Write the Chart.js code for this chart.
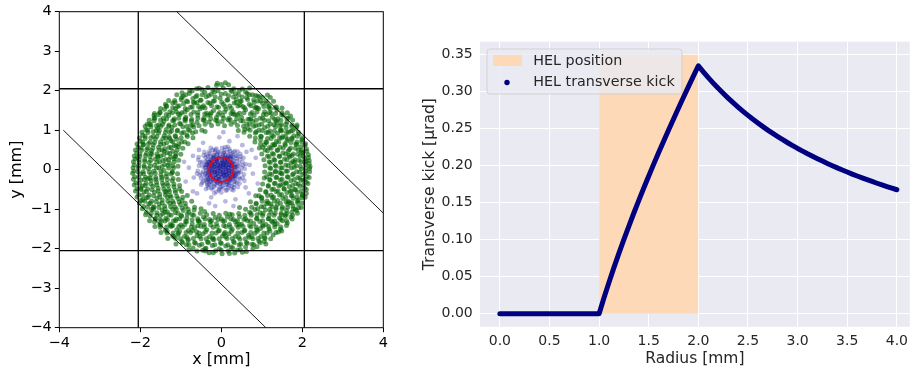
<!DOCTYPE html>
<html>
<head>
<meta charset="utf-8">
<script src="https://cdn.jsdelivr.net/npm/chart.js@4.4.1/dist/chart.umd.min.js"></script>
<style>
  html, body { margin: 0; padding: 0; background: #fff; overflow: hidden; }
  #wrap { position: relative; width: 914px; height: 372px; }
  #beamChart { position: absolute; left: 0; top: 0; }
  #kickChart { position: absolute; left: 400px; top: 0; }
</style>
</head>
<body>
<div id="wrap">
  <canvas id="beamChart" width="400" height="372"></canvas>
  <canvas id="kickChart" width="514" height="372"></canvas>
</div>
<script>
// ---- Left panel: particles in the transverse plane [mm] ----

// halo particles sitting inside the electron lens annulus
const haloParticles = [
  [-0.48,2.03],[-0.33,2.08],[-0.12,2.13],[0.05,2.07],[0.18,2.15],[0.31,2.05],[0.44,2.0],
  [-0.88,1.9],[-0.72,1.99],[-0.6,1.88],[-0.41,1.96],[-0.25,1.91],[-0.08,2.0],[0.1,1.93],[0.26,1.98],[0.43,1.89],[0.6,1.97],[0.77,1.9],[0.9,1.86],
  [-1.15,1.75],[-0.98,1.83],[-0.86,1.74],[-0.7,1.8],[-0.52,1.76],[-0.37,1.85],[-0.2,1.73],[-0.03,1.81],[0.14,1.76],[0.3,1.84],[0.47,1.74],[0.63,1.82],[0.8,1.77],[0.95,1.85],[1.1,1.74],
  [-1.36,1.62],[-1.2,1.69],[-1.08,1.6],[-0.93,1.67],[-0.76,1.58],[-0.6,1.7],[-0.44,1.62],[-0.28,1.68],[-0.11,1.59],[0.05,1.66],[0.21,1.61],[0.37,1.7],[0.53,1.6],[0.69,1.66],[0.86,1.58],[1.02,1.68],[1.18,1.62],[1.33,1.57],
  [-1.52,1.45],[-1.4,1.53],[-1.27,1.47],[-1.13,1.55],[-0.98,1.44],[-0.84,1.52],[-0.68,1.46],[-0.52,1.54],[-0.36,1.43],[-0.19,1.5],[-0.04,1.45],[0.12,1.53],[0.29,1.47],[0.45,1.43],[0.6,1.52],[0.76,1.45],[0.92,1.54],[1.07,1.47],[1.23,1.43],[1.38,1.51],[1.5,1.44],
  [-1.66,1.31],[-1.55,1.39],[-1.43,1.3],[-1.3,1.37],[-1.16,1.29],[-1.02,1.4],[-0.88,1.33],[-0.73,1.28],[-0.58,1.38],[-0.43,1.31],[-0.27,1.4],[-0.12,1.32],[0.03,1.37],[0.19,1.3],[0.34,1.39],[0.5,1.33],[0.66,1.28],[0.81,1.37],[0.96,1.3],[1.11,1.4],[1.26,1.33],[1.4,1.29],[1.53,1.38],[1.65,1.3],
  [-1.77,1.16],[-1.66,1.24],[-1.54,1.14],[-1.42,1.22],[-1.29,1.13],[-1.17,1.25],[-1.03,1.17],[-0.89,1.23],[-0.75,1.12],[-0.6,1.2],[-0.45,1.26],[-0.3,1.21],[-0.14,1.25],[0.02,1.22],[0.17,1.26],[0.33,1.2],[0.48,1.24],[0.63,1.15],[0.78,1.22],[0.93,1.13],[1.07,1.25],[1.21,1.16],[1.35,1.23],[1.49,1.14],[1.62,1.21],[1.75,1.13],
  [-1.86,1.01],[-1.74,1.08],[-1.61,0.99],[-1.49,1.1],[-1.36,1.02],[-1.22,1.07],[-1.09,0.98],[-0.95,1.09],[-0.82,1.01],[-0.68,1.08],
  [0.66,1.04],[0.8,1.1],[0.93,1.0],[1.07,1.07],[1.2,0.98],[1.34,1.09],[1.47,1.01],[1.6,1.06],[1.72,0.98],[1.84,1.04],
  [-1.94,0.87],[-1.81,0.94],[-1.68,0.85],[-1.55,0.93],[-1.41,0.86],[-1.27,0.95],[-1.13,0.84],[-0.98,0.92],[-0.85,0.88],
  [0.84,0.93],[0.97,0.85],[1.11,0.94],[1.25,0.87],[1.39,0.92],[1.52,0.84],[1.66,0.95],[1.79,0.86],[1.92,0.91],
  [-2.0,0.72],[-1.88,0.79],[-1.76,0.7],[-1.63,0.78],[-1.5,0.71],[-1.37,0.8],[-1.24,0.73],[-1.1,0.77],[-0.98,0.7],
  [0.97,0.76],[1.1,0.7],[1.23,0.79],[1.36,0.72],[1.49,0.8],[1.62,0.73],[1.75,0.78],[1.87,0.7],[1.99,0.76],
  [-2.05,0.57],[-1.93,0.64],[-1.81,0.55],[-1.68,0.63],[-1.55,0.57],[-1.42,0.65],[-1.29,0.56],[-1.16,0.62],[-1.06,0.58],
  [1.07,0.63],[1.19,0.56],[1.32,0.64],[1.45,0.57],[1.58,0.62],[1.71,0.55],[1.84,0.65],[1.96,0.58],[2.06,0.62],
  [-2.09,0.42],[-1.97,0.49],[-1.85,0.41],[-1.72,0.48],[-1.59,0.4],[-1.46,0.5],[-1.33,0.43],[-1.2,0.47],[-1.12,0.41],
  [1.14,0.48],[1.26,0.41],[1.39,0.49],[1.52,0.42],[1.65,0.47],[1.78,0.4],[1.9,0.5],[2.02,0.43],[2.11,0.47],
  [-2.13,0.27],[-2.01,0.34],[-1.89,0.26],[-1.76,0.33],[-1.63,0.27],[-1.5,0.35],[-1.37,0.26],[-1.25,0.32],[-1.17,0.28],
  [1.18,0.33],[1.3,0.26],[1.43,0.34],[1.56,0.27],[1.69,0.32],[1.82,0.25],[1.95,0.35],[2.06,0.28],[2.15,0.31],
  [-2.15,0.12],[-2.03,0.19],[-1.91,0.1],[-1.78,0.18],[-1.65,0.11],[-1.52,0.2],[-1.4,0.13],[-1.28,0.17],[-1.2,0.1],
  [1.21,0.18],[1.33,0.11],[1.46,0.19],[1.59,0.12],[1.72,0.17],[1.85,0.1],[1.97,0.2],[2.08,0.13],[2.17,0.16],
  [-2.16,-0.03],[-2.05,0.04],[-1.93,-0.05],[-1.8,0.03],[-1.67,-0.04],[-1.54,0.05],[-1.42,-0.02],[-1.3,0.04],[-1.21,-0.05],
  [1.22,0.03],[1.34,-0.04],[1.47,0.05],[1.6,-0.03],[1.73,0.04],[1.86,-0.05],[1.98,0.02],[2.09,-0.04],[2.18,0.03],
  [-2.14,-0.18],[-2.0,-0.11],[-1.87,-0.19],[-1.74,-0.12],[-1.62,-0.2],[-1.49,-0.13],[-1.36,-0.17],[-1.24,-0.11],
  [1.24,-0.12],[1.37,-0.19],[1.5,-0.11],[1.63,-0.18],[1.76,-0.13],[1.89,-0.2],[2.01,-0.12],[2.12,-0.17],
  [-2.11,-0.33],[-1.99,-0.26],[-1.86,-0.34],[-1.73,-0.27],[-1.6,-0.32],[-1.47,-0.25],[-1.34,-0.35],[-1.21,-0.28],
  [1.2,-0.27],[1.33,-0.34],[1.46,-0.26],[1.59,-0.33],[1.72,-0.28],[1.84,-0.35],[1.97,-0.27],[2.1,-0.32],
  [-2.08,-0.48],[-1.95,-0.41],[-1.82,-0.49],[-1.69,-0.42],[-1.56,-0.47],[-1.43,-0.4],[-1.3,-0.5],[-1.17,-0.43],
  [1.16,-0.42],[1.29,-0.49],[1.42,-0.41],[1.55,-0.48],[1.68,-0.43],[1.81,-0.5],[1.94,-0.42],[2.06,-0.47],
  [-2.04,-0.63],[-1.91,-0.56],[-1.78,-0.64],[-1.65,-0.57],[-1.52,-0.62],[-1.39,-0.55],[-1.26,-0.65],[-1.13,-0.58],
  [1.1,-0.57],[1.23,-0.64],[1.36,-0.56],[1.49,-0.63],[1.62,-0.58],[1.75,-0.65],[1.88,-0.57],[2.0,-0.62],
  [-1.98,-0.78],[-1.85,-0.71],[-1.72,-0.79],[-1.59,-0.72],[-1.46,-0.77],[-1.33,-0.7],[-1.2,-0.8],[-1.07,-0.73],[-0.97,-0.78],
  [1.0,-0.72],[1.13,-0.79],[1.26,-0.71],[1.39,-0.78],[1.52,-0.73],[1.65,-0.8],[1.78,-0.72],[1.9,-0.77],[1.99,-0.71],
  [-1.92,-0.93],[-1.79,-0.86],[-1.66,-0.94],[-1.53,-0.87],[-1.4,-0.92],[-1.27,-0.85],[-1.14,-0.95],[-1.01,-0.88],[-0.88,-0.93],
  [0.86,-0.87],[0.99,-0.94],[1.12,-0.86],[1.25,-0.93],[1.38,-0.88],[1.51,-0.95],[1.64,-0.87],[1.77,-0.92],[1.89,-0.85],
  [-1.85,-1.08],[-1.72,-1.01],[-1.59,-1.09],[-1.46,-1.02],[-1.33,-1.07],[-1.2,-1.0],[-1.07,-1.1],[-0.94,-1.03],[-0.8,-1.08],[-0.67,-1.02],
  [0.7,-1.08],[0.83,-1.01],[0.96,-1.09],[1.09,-1.02],[1.22,-1.07],[1.35,-1.0],[1.48,-1.1],[1.61,-1.03],[1.74,-1.08],[1.83,-1.01],
  [-1.76,-1.17],[-1.63,-1.24],[-1.5,-1.16],[-1.37,-1.23],[-1.24,-1.15],[-1.11,-1.25],[-0.98,-1.18],[-0.85,-1.22],[-0.72,-1.14],[-0.58,-1.24],[-0.44,-1.2],[-0.29,-1.26],[-0.15,-1.21],
  [0.0,-1.25],[0.15,-1.2],[0.3,-1.26],[0.45,-1.19],[0.6,-1.24],[0.74,-1.15],[0.88,-1.23],[1.02,-1.16],[1.16,-1.24],[1.3,-1.15],[1.44,-1.22],[1.58,-1.14],[1.72,-1.2],
  [-1.65,-1.32],[-1.52,-1.39],[-1.39,-1.3],[-1.26,-1.38],[-1.13,-1.29],[-1.0,-1.4],[-0.86,-1.32],[-0.72,-1.37],[-0.57,-1.29],[-0.42,-1.39],[-0.27,-1.31],[-0.12,-1.37],
  [0.04,-1.3],[0.2,-1.39],[0.35,-1.32],[0.5,-1.38],[0.65,-1.29],[0.8,-1.36],[0.95,-1.31],[1.1,-1.39],[1.24,-1.3],[1.38,-1.37],[1.51,-1.29],[1.63,-1.35],
  [-1.51,-1.46],[-1.38,-1.53],[-1.24,-1.44],[-1.1,-1.52],[-0.96,-1.45],[-0.81,-1.54],[-0.66,-1.47],[-0.51,-1.43],[-0.36,-1.52],[-0.2,-1.46],[-0.05,-1.54],
  [0.11,-1.44],[0.27,-1.51],[0.42,-1.46],[0.58,-1.53],[0.73,-1.45],[0.88,-1.52],[1.03,-1.43],[1.18,-1.5],[1.32,-1.45],[1.46,-1.51],
  [-1.34,-1.6],[-1.2,-1.68],[-1.06,-1.61],[-0.91,-1.69],[-0.76,-1.59],[-0.6,-1.67],[-0.45,-1.62],[-0.29,-1.7],[-0.13,-1.6],
  [0.03,-1.68],[0.19,-1.62],[0.35,-1.69],[0.51,-1.59],[0.67,-1.66],[0.83,-1.61],[0.98,-1.69],[1.13,-1.6],[1.28,-1.65],
  [-1.13,-1.74],[-0.97,-1.82],[-0.82,-1.76],[-0.66,-1.84],[-0.5,-1.75],[-0.34,-1.83],[-0.18,-1.77],[-0.02,-1.85],
  [0.14,-1.74],[0.3,-1.82],[0.46,-1.76],[0.62,-1.84],[0.78,-1.75],[0.93,-1.81],[1.08,-1.74],
  [-0.86,-1.9],[-0.7,-1.98],[-0.54,-1.91],[-0.38,-1.99],[-0.22,-1.92],[-0.05,-2.0],[0.11,-1.93],[0.28,-1.98],[0.44,-1.9],[0.6,-1.96],[0.76,-1.89],[0.88,-1.95],
  [-0.46,-2.04],[-0.3,-2.1],[-0.14,-2.05],[0.02,-2.13],[0.17,-2.06],[0.33,-2.11],[0.47,-2.02],
  // second sampling, offset between the rows above
  [-0.78,2.0],[-0.55,2.06],[-0.21,2.02],[0.0,2.16],[0.24,2.01],[0.52,2.04],[0.7,2.07],[-0.1,2.19],[0.1,2.2],
  [-1.1,1.9],[-0.94,1.86],[-0.79,1.93],[-0.63,1.85],[-0.47,1.9],[-0.31,1.88],[-0.15,1.84],[0.0,1.91],[0.18,1.87],[0.35,1.92],[0.52,1.84],[0.69,1.9],[0.85,1.88],[1.02,1.83],[1.14,1.89],
  [-1.3,1.75],[-1.14,1.7],[-0.99,1.77],[-0.83,1.72],[-0.66,1.69],[-0.5,1.76],[-0.33,1.7],[-0.17,1.74],[0.01,1.71],[0.16,1.77],[0.32,1.69],[0.49,1.73],[0.65,1.78],[0.81,1.7],[0.97,1.74],[1.13,1.69],[1.29,1.73],
  [-1.5,1.55],[-1.35,1.6],[-1.2,1.57],[-1.04,1.62],[-0.89,1.55],[-0.72,1.59],[-0.56,1.6],[-0.4,1.56],[-0.24,1.62],[-0.07,1.58],[0.09,1.6],[0.25,1.55],[0.41,1.61],[0.57,1.57],[0.73,1.62],[0.89,1.56],[1.05,1.6],[1.21,1.54],[1.36,1.59],[1.5,1.56],
  [-1.65,1.42],[-1.51,1.45],[-1.36,1.4],[-1.21,1.44],[-1.06,1.41],[-0.9,1.46],[-0.75,1.4],[-0.58,1.45],[-0.41,1.41],[-0.25,1.44],[-0.08,1.4],[0.08,1.46],[0.24,1.42],[0.4,1.39],[0.56,1.44],[0.72,1.41],[0.88,1.46],[1.04,1.4],[1.19,1.45],[1.34,1.42],[1.49,1.39],[1.63,1.44],
  [-1.78,1.25],[-1.64,1.3],[-1.5,1.26],[-1.35,1.29],[-1.2,1.24],[-1.05,1.3],[-0.9,1.27],[-0.74,1.23],[-0.58,1.3],[-0.42,1.25],[-0.26,1.29],[-0.1,1.24],[0.06,1.3],[0.22,1.26],[0.38,1.29],[0.54,1.23],[0.7,1.28],[0.86,1.25],[1.02,1.3],[1.17,1.24],[1.32,1.28],[1.47,1.25],[1.62,1.3],[1.76,1.26],
  [-1.88,1.1],[-1.74,1.14],[-1.6,1.11],[-1.45,1.15],[-1.3,1.1],[-1.15,1.13],[-1.0,1.16],[-0.85,1.1],[-0.7,1.14],[-0.55,1.11],[-0.4,1.15],[-0.24,1.12],[-0.08,1.16],
  [0.08,1.11],[0.24,1.15],[0.4,1.12],[0.55,1.1],[0.7,1.15],[0.85,1.12],[1.0,1.16],[1.15,1.1],[1.3,1.14],[1.45,1.11],[1.6,1.15],[1.74,1.1],[1.87,1.13],
  [-1.96,0.95],[-1.82,1.0],[-1.68,0.96],[-1.53,0.99],[-1.38,0.94],[-1.23,0.98],[-1.08,1.0],[-0.93,0.95],[-0.78,0.99],[-0.63,0.96],[-0.48,1.0],[-0.4,0.97],
  [0.42,0.99],[0.56,0.95],[0.71,1.0],[0.86,0.96],[1.01,0.99],[1.16,0.94],[1.31,0.98],[1.46,1.0],[1.61,0.95],[1.76,0.99],[1.9,0.95],
  [-2.02,0.8],[-1.88,0.85],[-1.74,0.81],[-1.59,0.84],[-1.44,0.79],[-1.29,0.83],[-1.14,0.86],[-0.99,0.8],[-0.84,0.84],[-0.7,0.81],
  [0.7,0.85],[0.84,0.8],[0.99,0.84],[1.14,0.79],[1.29,0.85],[1.44,0.81],[1.59,0.84],[1.74,0.8],[1.88,0.85],[2.0,0.81],
  [-2.08,0.65],[-1.94,0.7],[-1.8,0.66],[-1.65,0.69],[-1.5,0.64],[-1.35,0.68],[-1.2,0.71],[-1.05,0.65],[-0.9,0.7],[-0.82,0.66],
  [0.83,0.7],[0.97,0.65],[1.12,0.69],[1.27,0.64],[1.42,0.7],[1.57,0.66],[1.72,0.69],[1.86,0.64],[1.99,0.7],[2.08,0.66],
  [-2.12,0.5],[-1.98,0.55],[-1.84,0.51],[-1.69,0.54],[-1.54,0.49],[-1.39,0.53],[-1.24,0.56],[-1.09,0.5],[-0.95,0.54],
  [0.94,0.55],[1.08,0.5],[1.23,0.54],[1.38,0.49],[1.53,0.55],[1.68,0.51],[1.83,0.54],[1.97,0.49],[2.1,0.53],
  [-2.15,0.35],[-2.01,0.4],[-1.87,0.36],[-1.72,0.39],[-1.57,0.34],[-1.42,0.38],[-1.27,0.41],[-1.13,0.35],[-1.0,0.39],
  [1.0,0.4],[1.14,0.35],[1.29,0.39],[1.44,0.34],[1.59,0.4],[1.74,0.36],[1.89,0.39],[2.03,0.34],[2.15,0.38],
  [-2.17,0.2],[-2.03,0.25],[-1.89,0.21],[-1.74,0.24],[-1.59,0.19],[-1.44,0.23],[-1.3,0.26],[-1.16,0.2],[-1.05,0.24],
  [1.05,0.25],[1.18,0.2],[1.32,0.24],[1.47,0.19],[1.62,0.25],[1.77,0.21],[1.92,0.24],[2.06,0.19],[2.17,0.23],
  [-2.18,0.05],[-2.04,0.1],[-1.9,0.06],[-1.75,0.09],[-1.6,0.04],[-1.46,0.08],[-1.32,0.11],[-1.18,0.05],[-1.07,0.09],
  [1.08,0.1],[1.2,0.05],[1.35,0.09],[1.5,0.04],[1.65,0.1],[1.8,0.06],[1.95,0.09],[2.08,0.04],[2.19,0.08],
  [-2.19,-0.09],[-2.06,-0.05],[-1.92,-0.1],[-1.78,-0.06],[-1.63,-0.09],[-1.49,-0.04],[-1.35,-0.1],[-1.21,-0.07],[-1.08,-0.1],
  [1.07,-0.06],[1.19,-0.1],[1.33,-0.05],[1.48,-0.09],[1.63,-0.04],[1.78,-0.1],[1.93,-0.06],[2.06,-0.09],[2.18,-0.05],
  [-2.17,-0.24],[-2.04,-0.2],[-1.9,-0.25],[-1.76,-0.21],[-1.61,-0.24],[-1.47,-0.19],[-1.33,-0.25],[-1.19,-0.22],[-1.06,-0.25],
  [1.06,-0.21],[1.2,-0.25],[1.35,-0.2],[1.5,-0.24],[1.65,-0.19],[1.8,-0.25],[1.94,-0.21],[2.07,-0.24],[2.17,-0.2],
  [-2.15,-0.39],[-2.02,-0.35],[-1.88,-0.4],[-1.74,-0.36],[-1.59,-0.39],[-1.45,-0.34],[-1.31,-0.4],[-1.17,-0.37],[-1.03,-0.4],
  [1.02,-0.36],[1.16,-0.4],[1.31,-0.35],[1.46,-0.39],[1.61,-0.34],[1.76,-0.4],[1.9,-0.36],[2.03,-0.39],[2.14,-0.35],
  [-2.12,-0.54],[-1.99,-0.5],[-1.85,-0.55],[-1.71,-0.51],[-1.56,-0.54],[-1.42,-0.49],[-1.28,-0.55],[-1.14,-0.52],[-0.98,-0.55],
  [0.96,-0.51],[1.1,-0.55],[1.25,-0.5],[1.4,-0.54],[1.55,-0.49],[1.7,-0.55],[1.84,-0.51],[1.98,-0.54],[2.1,-0.5],
  [-2.08,-0.69],[-1.95,-0.65],[-1.81,-0.7],[-1.67,-0.66],[-1.52,-0.69],[-1.38,-0.64],[-1.24,-0.7],[-1.1,-0.67],[-0.95,-0.7],[-0.84,-0.65],
  [0.85,-0.66],[0.99,-0.7],[1.14,-0.65],[1.29,-0.69],[1.44,-0.64],[1.59,-0.7],[1.73,-0.66],[1.87,-0.69],[2.0,-0.65],[2.07,-0.7],
  [-2.02,-0.84],[-1.89,-0.8],[-1.75,-0.85],[-1.61,-0.81],[-1.46,-0.84],[-1.32,-0.79],[-1.18,-0.85],[-1.04,-0.82],[-0.89,-0.85],[-0.73,-0.8],
  [0.72,-0.81],[0.86,-0.85],[1.01,-0.8],[1.16,-0.84],[1.31,-0.79],[1.46,-0.85],[1.6,-0.81],[1.74,-0.84],[1.88,-0.8],[2.0,-0.84],
  [-1.95,-0.99],[-1.82,-0.95],[-1.68,-1.0],[-1.54,-0.96],[-1.39,-0.99],[-1.25,-0.94],[-1.11,-1.0],[-0.97,-0.97],[-0.82,-1.0],[-0.66,-0.95],[-0.5,-0.99],
  [0.45,-0.96],[0.6,-1.0],[0.75,-0.95],[0.9,-0.99],[1.05,-0.94],[1.2,-1.0],[1.35,-0.96],[1.5,-0.99],[1.64,-0.95],[1.78,-0.99],[1.91,-0.96],
  [-1.87,-1.14],[-1.73,-1.1],[-1.59,-1.15],[-1.44,-1.11],[-1.29,-1.14],[-1.14,-1.09],[-0.99,-1.15],[-0.84,-1.12],[-0.68,-1.15],[-0.52,-1.1],[-0.36,-1.14],[-0.2,-1.11],[-0.05,-1.15],
  [0.11,-1.1],[0.27,-1.14],[0.43,-1.11],[0.58,-1.15],[0.73,-1.1],[0.88,-1.14],[1.03,-1.11],[1.18,-1.15],[1.33,-1.1],[1.48,-1.14],[1.62,-1.11],[1.76,-1.15],[1.88,-1.1],
  [-1.77,-1.29],[-1.63,-1.25],[-1.48,-1.3],[-1.33,-1.26],[-1.18,-1.29],[-1.03,-1.24],[-0.88,-1.3],[-0.72,-1.27],[-0.56,-1.3],[-0.4,-1.25],[-0.24,-1.29],[-0.08,-1.26],
  [0.08,-1.3],[0.24,-1.25],[0.4,-1.29],[0.56,-1.26],[0.72,-1.3],[0.87,-1.25],[1.02,-1.29],[1.17,-1.24],[1.32,-1.3],[1.47,-1.26],[1.61,-1.29],[1.75,-1.25],
  [-1.64,-1.44],[-1.5,-1.4],[-1.35,-1.45],[-1.2,-1.41],[-1.05,-1.44],[-0.9,-1.39],[-0.74,-1.45],[-0.58,-1.42],[-0.42,-1.45],[-0.26,-1.4],[-0.1,-1.44],
  [0.06,-1.41],[0.22,-1.45],[0.38,-1.4],[0.54,-1.44],[0.7,-1.41],[0.86,-1.45],[1.02,-1.4],[1.17,-1.44],[1.32,-1.39],[1.47,-1.45],[1.61,-1.41],
  [-1.49,-1.59],[-1.34,-1.55],[-1.19,-1.6],[-1.03,-1.56],[-0.87,-1.59],[-0.71,-1.54],[-0.55,-1.6],[-0.39,-1.57],[-0.23,-1.6],[-0.07,-1.55],
  [0.09,-1.59],[0.25,-1.56],[0.41,-1.6],[0.57,-1.55],[0.73,-1.59],[0.89,-1.56],[1.05,-1.6],[1.2,-1.55],[1.35,-1.59],[1.49,-1.55],
  [-1.32,-1.74],[-1.17,-1.7],[-1.01,-1.75],[-0.85,-1.71],[-0.69,-1.74],[-0.53,-1.69],[-0.37,-1.75],[-0.21,-1.72],[-0.05,-1.75],
  [0.11,-1.7],[0.27,-1.74],[0.43,-1.71],[0.59,-1.75],[0.75,-1.7],[0.91,-1.74],[1.07,-1.71],[1.22,-1.75],
  [-1.12,-1.88],[-0.96,-1.85],[-0.8,-1.9],[-0.64,-1.86],[-0.48,-1.89],[-0.32,-1.84],[-0.16,-1.9],[0.0,-1.87],
  [0.16,-1.9],[0.32,-1.85],[0.48,-1.89],[0.64,-1.86],[0.8,-1.9],[0.96,-1.85],[1.1,-1.88],
  [-0.8,-2.02],[-0.6,-2.06],[-0.4,-2.0],[-0.2,-2.1],[0.0,-2.04],[0.2,-2.12],[0.4,-2.03],[0.62,-2.07],[0.78,-2.0],
  // scattered extras breaking up the rows
  [-1.38,1.66],[-0.61,2.05],[0.37,1.79],[1.21,1.83],[1.71,1.36],[1.98,0.44],[2.1,-0.6],[1.86,-1.03],[1.41,-1.58],[0.52,-2.09],
  [-1.92,0.63],[-1.57,1.04],[-1.11,1.47],[-0.47,1.58],[0.29,1.41],[0.83,1.57],[1.38,1.19],[1.64,0.77],[1.81,0.19],[1.53,-0.37],
  [1.69,-0.83],[1.27,-1.33],[0.69,-1.71],[0.07,-1.62],[-0.61,-1.57],[-1.23,-1.41],[-1.68,-0.96],[-1.81,-0.23],[-1.56,0.31],[-1.27,0.79],
  [-0.88,1.29],[-0.17,1.97],[0.64,1.93],[1.17,1.58],[1.86,1.09],[2.03,-0.27],[1.97,-0.96],[1.06,-1.82],[0.24,-1.96],[-0.39,-2.06],
  [-1.07,-1.64],[-1.51,-1.27],[-1.99,-0.47],[-2.07,0.31],[-1.83,1.15],[-0.97,1.95],[-1.12,0.6],[-0.71,0.93],[0.58,1.02],[1.02,0.57],
  [1.12,-0.18],[0.93,-0.66],[0.21,-1.13],[-0.41,-1.06],[-1.03,-0.49],[-1.14,0.33],[1.31,0.62],[1.44,-0.07],[1.22,-0.87],[0.44,-1.39],
  [-0.53,-1.33],[-1.36,-0.57],[-1.41,0.47],[-0.33,1.38],[0.73,1.29],[1.67,0.36],[1.73,-0.54],[0.97,-1.49],[-0.21,-1.76],[-1.39,-1.08],
  [-1.74,0.42],[-0.69,1.71],[0.46,1.64],[1.49,0.98],[1.58,-1.18],[-0.82,-1.79],[-1.94,-0.76],[-1.66,1.38],[0.9,1.74],[2.09,0.22]
];

// beam core particles
const coreParticles = [
  [0.0,0.0],[0.05,0.08],[-0.07,0.04],[0.12,-0.05],[-0.1,-0.09],[0.18,0.12],[-0.16,0.15],[0.22,-0.14],[-0.2,-0.18],[0.03,0.22],
  [-0.04,-0.24],[0.26,0.04],[-0.27,0.02],[0.09,-0.16],[-0.12,0.2],[0.15,0.25],[-0.22,-0.06],[0.3,-0.08],[-0.3,0.12],[0.06,-0.3],
  [-0.08,0.3],[0.2,-0.25],[-0.24,0.24],[0.28,0.18],[-0.15,-0.28],[0.11,0.05],[-0.02,-0.11],[0.16,-0.01],[-0.13,0.07],[0.07,0.15],
  [-0.06,-0.17],[0.24,-0.2],[-0.19,0.09],[0.01,0.32],[-0.33,-0.05],[0.33,0.06],[0.13,-0.31],[-0.28,-0.17],[0.19,0.3],[-0.1,0.26],
  [0.04,-0.05],[-0.03,0.14],[0.1,-0.1],[-0.17,-0.02],[0.23,0.09],[-0.09,-0.32],[0.27,-0.03],[-0.25,0.18],[0.14,0.19],[-0.21,-0.25],
  [0.08,0.03],[-0.05,-0.02],[0.02,-0.08],[-0.1,0.1],[0.14,0.11],[-0.14,-0.13],[0.19,-0.08],[-0.2,0.04],[0.03,0.18],[0.0,-0.19],
  [0.25,0.12],[-0.26,-0.1],[0.12,-0.22],[-0.11,0.23],[0.21,0.2],[-0.18,0.28],[0.29,-0.15],[-0.31,0.06],[0.17,0.34],[-0.03,-0.35],
  [0.35,-0.18],[-0.35,0.25],[0.06,0.41],[-0.24,-0.36],[0.4,-0.1],[-0.42,-0.2],[0.25,0.4],[0.2,-0.4],[-0.39,0.3],[0.32,-0.38],
  [0.04,0.12],[-0.09,0.17],[0.17,0.05],[-0.16,-0.06],[0.06,-0.14],[-0.04,0.06],[0.21,-0.03],[-0.24,0.1],[0.1,0.29],[-0.13,-0.2],
  [0.27,-0.24],[-0.29,0.19],[0.32,0.14],[-0.33,-0.13],[0.14,-0.38],[-0.18,0.37],[0.38,0.22],[-0.4,0.05],[0.02,-0.42],[-0.07,0.44],
  [0.31,-0.3],[-0.26,-0.3],[0.23,0.33],[-0.36,0.14],[0.43,-0.02],[-0.12,-0.4],[0.09,0.36],[-0.3,-0.22],[0.36,-0.12],[-0.2,0.33],
  [0.0,0.1],[0.13,-0.12],[-0.11,-0.05],[0.07,0.24],[-0.22,0.16],[0.26,0.27],[-0.08,-0.27],[0.19,-0.19],[-0.28,-0.03],[0.11,0.17],
  [-0.37,-0.26],[0.44,0.16],[-0.16,0.44],[0.17,-0.45],[0.46,-0.24],[-0.47,0.2],[0.29,0.44],[-0.34,-0.4],[0.39,0.35],[-0.05,-0.49],
  [-0.17,0.33],[-0.1,0.37],[-0.03,0.34],[0.04,0.38],[0.11,0.32],[0.18,0.36],
  [-0.27,0.26],[-0.2,0.3],[-0.13,0.27],[-0.06,0.29],[0.01,0.25],[0.08,0.3],[0.15,0.26],[0.22,0.29],
  [-0.33,0.19],[-0.26,0.23],[-0.19,0.2],[-0.12,0.22],[-0.05,0.18],[0.02,0.23],[0.09,0.2],[0.16,0.22],[0.23,0.19],[0.3,0.23],
  [-0.36,0.12],[-0.29,0.16],[-0.22,0.13],[-0.15,0.15],[-0.08,0.11],[-0.01,0.16],[0.06,0.13],[0.13,0.15],[0.2,0.12],[0.27,0.16],[0.34,0.13],
  [-0.38,0.05],[-0.31,0.09],[-0.24,0.06],[-0.17,0.08],[-0.1,0.04],[-0.03,0.09],[0.04,0.06],[0.11,0.08],[0.18,0.05],[0.25,0.09],[0.32,0.06],[0.38,0.08],
  [-0.37,-0.02],[-0.3,0.02],[-0.23,-0.01],[-0.16,0.01],[-0.09,-0.03],[-0.02,0.02],[0.05,-0.01],[0.12,0.01],[0.19,-0.02],[0.26,0.02],[0.33,-0.01],
  [-0.38,-0.09],[-0.31,-0.05],[-0.24,-0.08],[-0.17,-0.06],[-0.1,-0.1],[-0.03,-0.05],[0.04,-0.08],[0.11,-0.06],[0.18,-0.09],[0.25,-0.05],[0.32,-0.08],[0.38,-0.06],
  [-0.36,-0.16],[-0.29,-0.12],[-0.22,-0.15],[-0.15,-0.13],[-0.08,-0.17],[-0.01,-0.12],[0.06,-0.15],[0.13,-0.13],[0.2,-0.16],[0.27,-0.12],[0.34,-0.15],
  [-0.33,-0.23],[-0.26,-0.19],[-0.19,-0.22],[-0.12,-0.2],[-0.05,-0.24],[0.02,-0.19],[0.09,-0.22],[0.16,-0.2],[0.23,-0.23],[0.3,-0.19],
  [-0.27,-0.3],[-0.2,-0.26],[-0.13,-0.29],[-0.06,-0.27],[0.01,-0.31],[0.08,-0.26],[0.15,-0.29],[0.22,-0.27],
  [-0.17,-0.37],[-0.1,-0.33],[-0.03,-0.36],[0.04,-0.34],[0.11,-0.38],[0.18,-0.33],
  [0.42,0.1],[-0.4,-0.12],[0.15,0.44],[-0.18,-0.43],[0.35,-0.3],[-0.33,0.34],[0.48,-0.06],[-0.46,0.08],[0.05,-0.47],[-0.04,0.46],
  [0.38,0.28],[-0.36,-0.3],[0.26,-0.42],[-0.28,0.41],[0.52,0.2],[-0.5,-0.22],[0.2,0.52],[-0.22,-0.5],[0.45,-0.35],[-0.44,0.36],
  [0.56,-0.12],[-0.55,0.1],[0.1,0.57],[-0.12,-0.56],[0.33,0.47],[-0.32,-0.46],[0.41,-0.44],[-0.42,0.45],[0.58,0.02],[-0.58,-0.03],
  [0.0,-0.58],[0.02,0.55],[0.37,0.05],[-0.38,0.2],[0.22,-0.33],[-0.1,0.4],[0.47,0.4],[-0.5,-0.38],[0.3,-0.52],[-0.26,0.55],
  [0.55,0.3],[-0.57,0.25],[0.12,-0.53],[-0.15,0.5],[0.44,-0.2],[-0.45,-0.05],[0.28,0.36],[-0.3,-0.38],
  [0.5,0.05],[-0.49,-0.1],[0.08,0.5],[-0.06,-0.52],[0.36,0.36],[-0.37,0.38],[0.39,-0.33],[-0.35,-0.36],[0.53,-0.2],[-0.52,0.18],
  [0.21,0.47],[-0.24,-0.46],[0.46,0.27],[-0.44,-0.29],[0.31,-0.45],[-0.3,0.46],[0.54,0.11],[-0.53,-0.14],[0.14,-0.51],[-0.12,0.53],
  [0.43,-0.08],[-0.41,0.12],[0.06,0.44],[-0.02,-0.45],[0.29,0.31],[-0.32,-0.27],[0.34,-0.22],[-0.27,0.34],[0.48,0.33],[-0.47,-0.33],
  [0.25,-0.5],[-0.21,0.5],[0.57,-0.28],[-0.56,0.32],[0.4,0.46],[-0.38,-0.49],[0.16,0.58],[-0.17,-0.6],[0.6,0.14],[-0.6,-0.1],
  [0.7,0.12],[-0.68,-0.2],[0.2,0.72],[-0.25,-0.7],[0.6,-0.45],[-0.55,0.5],[0.78,-0.1],[-0.8,0.05],[0.1,-0.8],[-0.05,0.82],
  [0.52,0.62],[-0.6,-0.6],[0.62,0.45],[-0.45,0.68],[0.35,-0.75],[-0.7,0.35],[0.85,0.3],[-0.88,-0.3],[0.4,0.85],[-0.3,-0.85],
  [0.9,-0.35],[-0.92,0.2],[0.05,0.95],[-0.15,-0.92],[0.68,-0.6],[-0.7,-0.55],[0.3,-0.92],[0.75,0.5]
];

const apertureX = [-2.05, 2.05];      // vertical aperture lines
const apertureY = [2.05, -2.05];      // horizontal aperture lines
const diagonalCuts = [
  [[-1.1, 4], [4, -1.1]],
  [[-3.9, 1.0], [1.1, -4]]
];
const beamCircle = { x: 0, y: 0, r: 0.3 };
const planeLimit = 4;
const planeTicksX = [-4, -2, 0, 2, 4];
const planeTicksY = [-4, -3, -2, -1, 0, 1, 2, 3, 4];

// ---- Right panel: transverse kick of the HEL vs radius ----
const radius = [0.0, 0.25, 0.5, 0.75, 1.0,
  1.05, 1.1, 1.15, 1.2, 1.25, 1.3, 1.35, 1.4, 1.45, 1.5, 1.55, 1.6, 1.65, 1.7, 1.75, 1.8, 1.85, 1.9, 1.95, 2.0,
  2.05, 2.1, 2.15, 2.2, 2.25, 2.3, 2.35, 2.4, 2.45, 2.5, 2.55, 2.6, 2.65, 2.7, 2.75, 2.8, 2.85, 2.9, 2.95, 3.0,
  3.05, 3.1, 3.15, 3.2, 3.25, 3.3, 3.35, 3.4, 3.45, 3.5, 3.55, 3.6, 3.65, 3.7, 3.75, 3.8, 3.85, 3.9, 3.95, 4.0];
const kick = [0, 0, 0, 0, 0,
  0.0218, 0.0426, 0.0626, 0.0819, 0.1005, 0.1185, 0.1361, 0.1531, 0.1698, 0.1861, 0.2021, 0.2178, 0.2331, 0.2483, 0.2632, 0.2779, 0.2924, 0.3068, 0.3210, 0.3350,
  0.3268, 0.3190, 0.3116, 0.3045, 0.2978, 0.2913, 0.2851, 0.2792, 0.2735, 0.2680, 0.2627, 0.2577, 0.2528, 0.2481, 0.2436, 0.2393, 0.2351, 0.2310, 0.2271, 0.2233,
  0.2197, 0.2161, 0.2127, 0.2094, 0.2062, 0.2030, 0.2000, 0.1971, 0.1942, 0.1914, 0.1887, 0.1861, 0.1836, 0.1811, 0.1787, 0.1763, 0.1740, 0.1718, 0.1696, 0.1675];
const helStart = 1.0;
const helEnd = 2.0;
const helHeight = 0.35;
const radiusTicks = [0, 0.5, 1, 1.5, 2, 2.5, 3, 3.5, 4];
const kickTicks = [0, 0.05, 0.1, 0.15, 0.2, 0.25, 0.3, 0.35];

Chart.defaults.font.family = '"DejaVu Sans", sans-serif';
Chart.defaults.animation = false;

const minus = v => String(v).replace('-', '\u2212');
const fixedTicks = vals => scale => { scale.ticks = vals.map(v => ({ value: v })); };

// full frame around the left axes + red beam circle
const planeDecor = {
  id: 'planeDecor',
  afterDatasetsDraw(chart) {
    const { ctx, scales: { x, y } } = chart;
    const cx = x.getPixelForValue(beamCircle.x);
    const cy = y.getPixelForValue(beamCircle.y);
    const r = x.getPixelForValue(beamCircle.x + beamCircle.r) - cx;
    ctx.save();
    ctx.strokeStyle = '#ff0000';
    ctx.lineWidth = 1.6;
    ctx.beginPath();
    ctx.arc(cx, cy, r, 0, Math.PI * 2);
    ctx.stroke();
    ctx.restore();
  },
  afterDraw(chart) {
    const { ctx, chartArea: a } = chart;
    ctx.save();
    ctx.strokeStyle = '#000';
    ctx.lineWidth = 1;
    ctx.strokeRect(a.left, a.top, a.right - a.left, a.bottom - a.top);
    ctx.restore();
  }
};

const lineSet = (pts, w) => ({
  data: pts.map(p => ({ x: p[0], y: p[1] })),
  showLine: true, borderColor: '#000', borderWidth: w, pointRadius: 0, fill: false
});

const planeLines = [
  ...apertureX.map(v => lineSet([[v, -planeLimit], [v, planeLimit]], 1.3)),
  ...apertureY.map(v => lineSet([[-planeLimit, v], [planeLimit, v]], 1.3)),
  ...diagonalCuts.map(seg => lineSet(seg, 0.9))
];

new Chart(document.getElementById('beamChart'), {
  type: 'scatter',
  data: {
    datasets: [
      ...planeLines,
      {
        data: coreParticles.map(p => ({ x: p[0], y: p[1] })),
        backgroundColor: 'rgba(0,0,139,0.28)', borderWidth: 0, pointRadius: 2.4
      },
      {
        data: haloParticles.map(p => ({ x: p[0], y: p[1] })),
        backgroundColor: 'rgba(0,100,0,0.6)', borderWidth: 0, pointRadius: 2.5
      }
    ]
  },
  options: {
    responsive: false,
    layout: { padding: { left: 0, top: 11.7, right: 16.7, bottom: 0 } },
    plugins: { legend: { display: false }, tooltip: { enabled: false } },
    scales: {
      x: {
        type: 'linear', min: -planeLimit, max: planeLimit,
        afterBuildTicks: fixedTicks(planeTicksX),
        afterFit: s => { s.height = 44.3; },
        grid: { drawOnChartArea: false, drawTicks: true, tickLength: 4.5, color: '#000' },
        border: { display: false },
        ticks: { color: '#000', font: { size: 14.5 }, padding: 2, maxRotation: 0, callback: minus },
        title: { display: true, text: 'x [mm]', color: '#000', font: { size: 16 }, padding: { top: 0, bottom: 2.4 } }
      },
      y: {
        type: 'linear', min: -planeLimit, max: planeLimit,
        afterBuildTicks: fixedTicks(planeTicksY),
        afterFit: s => { s.width = 59.3; },
        grid: { drawOnChartArea: false, drawTicks: true, tickLength: 4.5, color: '#000' },
        border: { display: false },
        ticks: { color: '#000', font: { size: 14.5 }, padding: 3, callback: minus },
        title: { display: true, text: 'y [mm]', color: '#000', font: { size: 16 }, padding: { top: 7.1, bottom: 0 } }
      }
    }
  },
  plugins: [planeDecor]
});

// grey panel background and in-axes legend for the kick plot
const kickDecor = {
  id: 'kickDecor',
  beforeDraw(chart) {
    const { ctx, chartArea: a } = chart;
    ctx.save();
    ctx.fillStyle = '#EAEAF2';
    ctx.fillRect(a.left, a.top, a.right - a.left, a.bottom - a.top);
    ctx.restore();
  },
  afterDatasetsDraw(chart) {
    const { ctx, chartArea: a } = chart;
    const line = chart.data.datasets[0];
    const span = chart.data.datasets[1];
    const x = a.left + 7, y = a.top + 7.3, w = 195, h = 45;
    ctx.save();
    ctx.globalAlpha = 0.8;
    ctx.beginPath();
    if (ctx.roundRect) ctx.roundRect(x, y, w, h, 3); else ctx.rect(x, y, w, h);
    ctx.fillStyle = '#EAEAF2';
    ctx.fill();
    ctx.strokeStyle = '#CCCCCC';
    ctx.lineWidth = 1;
    ctx.stroke();
    ctx.globalAlpha = 1;
    ctx.fillStyle = span.backgroundColor;
    ctx.fillRect(x + 6, y + 6, 29, 11);
    ctx.fillStyle = line.borderColor;
    ctx.beginPath();
    ctx.arc(x + 20, y + 33.5, 2.7, 0, Math.PI * 2);
    ctx.fill();
    ctx.fillStyle = '#262626';
    ctx.font = '14.3px "DejaVu Sans"';
    ctx.textBaseline = 'middle';
    ctx.fillText(span.label, x + 46.3, y + 12);
    ctx.fillText(line.label, x + 46.3, y + 33);
    ctx.restore();
  }
};

new Chart(document.getElementById('kickChart'), {
  type: 'line',
  data: {
    datasets: [
      {
        label: 'HEL transverse kick',
        data: radius.map((r, i) => ({ x: r, y: kick[i] })),
        borderColor: '#000080', borderWidth: 5, pointRadius: 0,
        borderCapStyle: 'round', borderJoinStyle: 'round', tension: 0, fill: false
      },
      {
        label: 'HEL position',
        data: [{ x: helStart, y: helHeight }, { x: helEnd, y: helHeight }],
        backgroundColor: 'rgb(253,217,183)', borderWidth: 0, pointRadius: 0, fill: 'origin'
      }
    ]
  },
  options: {
    responsive: false,
    layout: { padding: { left: 0, top: 41.7, right: 0, bottom: 0 } },
    plugins: { legend: { display: false }, tooltip: { enabled: false } },
    scales: {
      x: {
        type: 'linear', min: -0.2, max: 4.13,
        afterBuildTicks: fixedTicks(radiusTicks),
        afterFit: s => { s.height = 45.3; },
        grid: { color: '#ffffff', lineWidth: 1, drawTicks: false },
        border: { display: false },
        ticks: { color: '#262626', font: { size: 14 }, padding: 6, maxRotation: 0, callback: v => v.toFixed(1) },
        title: { display: true, text: 'Radius [mm]', color: '#262626', font: { size: 15.5 }, padding: { top: 0, bottom: 3.4 } }
      },
      y: {
        type: 'linear', min: -0.0175, max: 0.3675,
        afterBuildTicks: fixedTicks(kickTicks),
        afterFit: s => { s.width = 80; },
        grid: { color: '#ffffff', lineWidth: 1, drawTicks: false },
        border: { display: false },
        ticks: { color: '#262626', font: { size: 14 }, padding: 7.3, callback: v => v.toFixed(2) },
        title: { display: true, text: 'Transverse kick [\u03bcrad]', color: '#262626', font: { size: 15.5 }, padding: { top: 20.4, bottom: 0 } }
      }
    }
  },
  plugins: [kickDecor]
});
</script>
</body>
</html>
